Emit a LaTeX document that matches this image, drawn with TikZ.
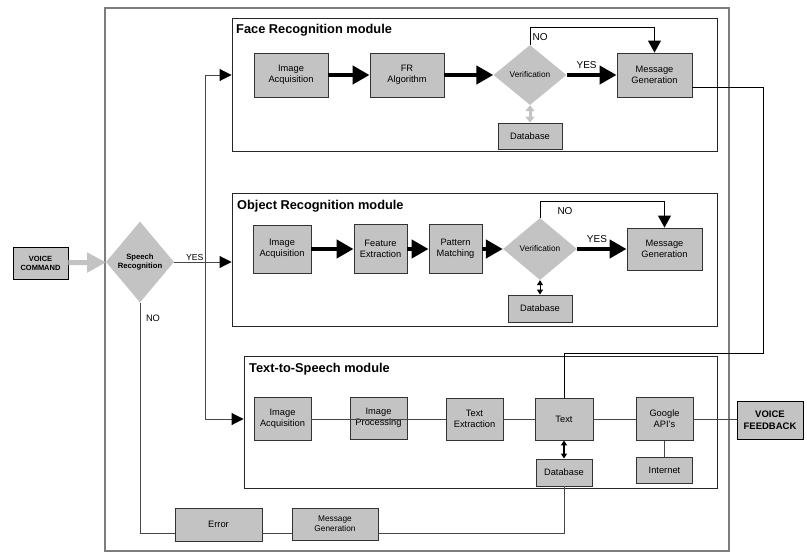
\documentclass[tikz,border=0pt]{standalone}
\usepackage{fontspec}
\setmainfont{Liberation Sans}
\usetikzlibrary{shapes.geometric}
\usetikzlibrary{arrows.meta}

\definecolor{boxfill}{RGB}{195,195,195}
\definecolor{framegray}{RGB}{125,125,125}
\definecolor{linegray}{RGB}{70,70,70}
\newcommand{\boxfont}{\fontsize{9.3}{11}\selectfont}
\newcommand{\smallfont}{\fontsize{8.3}{10}\selectfont}
\newcommand{\titlefont}{\bfseries\fontsize{12.8}{15}\selectfont}
\newcommand{\lblfont}{\fontsize{10}{12}\selectfont}

\begin{document}
\begin{tikzpicture}[x=1pt, y=-1pt,
  bloc/.style={draw=black!80, line width=0.9pt, fill=boxfill, align=center, inner sep=0pt, font=\boxfont},
  taille/.style 2 args={minimum width=#1pt, minimum height=#2pt},
  losange/.style={diamond, fill=boxfill, inner sep=0pt, align=center},
  module/.style={draw=black!85, line width=0.9pt, inner sep=0pt},
  titre/.style={anchor=west, inner sep=0pt, font=\titlefont},
  lbl/.style={inner sep=0.5pt, font=\lblfont},
  fil/.style={draw=linegray, line width=0.9pt},
  bigarrow/.style={draw=black, line width=4.5pt, -{Triangle[length=17pt, width=18pt]}},
  arrowtip/.style={fil, -{Triangle[length=12pt, width=12pt, color=black]}},
  dbarrow/.style={draw=black, line width=1.2pt, {Triangle[length=5pt, width=6pt]}-{Triangle[length=5pt, width=6pt]}}
]
\useasboundingbox (0,0) rectangle (807,554);

% cadres
\draw[framegray, line width=1.5pt] (105,8) rectangle (729,551);
\node[module, taille={485}{133}] (face) at (474.5,84.5) {};
\node[module, taille={485}{133}] (obj) at (474.5,259.5) {};
\node[module, taille={473}{132}] (tts) at (480.5,422) {};
\node[titre] (faceT) at (236,30) {Face Recognition module};
\node[titre] (objT) at (237,206) {Object Recognition module};
\node[titre] (ttsT) at (249,369) {Text-to-Speech module};

% entree
\node[bloc, draw=black, taille={55}{32}, font=\bfseries\fontsize{7.5}{9}\selectfont] (cmd) at (40.5,263) {VOICE\\COMMAND};
\node[losange, taille={68}{81}, aspect=0.84, font=\bfseries\fontsize{7.7}{9}\selectfont] (speech) at (140,262) {Speech\\Recognition};
\coordinate (split) at (205,262);

% Face Recognition
\node[bloc, taille={74}{44}] (fImg) at (291,75) {Image\\Acquisition};
\node[bloc, taille={74}{44}] (fAlg) at (407,75) {FR\\Algorithm};
\node[losange, taille={73}{60}, aspect=1.22, font=\smallfont] (fVer) at (530,75) {Verification};
\node[bloc, taille={75}{44}] (fMsg) at (654.5,75) {Message\\Generation};
\node[bloc, taille={64}{26}] (fDb) at (530,136) {Database};

% Object Recognition
\node[bloc, taille={58}{48}] (oImg) at (282,249) {Image\\Acquisition};
\node[bloc, taille={53}{49}] (oFeat) at (380.5,249) {Feature\\Extraction};
\node[bloc, taille={53}{49}] (oPat) at (455.5,249) {Pattern\\Matching};
\node[losange, taille={74}{62}, aspect=1.2, font=\smallfont] (oVer) at (540,249) {Verification};
\node[bloc, taille={75}{42}] (oMsg) at (664.5,249) {Message\\Generation};
\node[bloc, taille={64}{27}] (oDb) at (540,308.5) {Database};

% Text-to-Speech
\node[bloc, taille={57}{43}] (tImg) at (282.5,419) {Image\\Acquisition};
\node[bloc, taille={57}{42}] (tProc) at (378.5,418) {Image\\Processing};
\node[bloc, taille={57}{42}] (tExt) at (474.5,419) {Text\\Extraction};
\node[bloc, taille={58}{42}] (tText) at (564,419) {Text};
\node[bloc, taille={57}{43}] (tApi) at (664.5,419) {Google\\API’s};
\node[bloc, taille={56}{26}] (tNet) at (664.5,470) {Internet};
\node[bloc, taille={56}{27}] (tDb) at (564,472.5) {Database};
\node[bloc, draw=black, taille={66}{38}, font=\bfseries\fontsize{9.5}{11.5}\selectfont] (feedback) at (770,420) {VOICE\\FEEDBACK};

% erreur
\node[bloc, taille={87}{33}] (err) at (218.5,524.5) {Error};
\node[bloc, taille={86}{32}, font=\smallfont] (bMsg) at (335,524) {Message\\Generation};

% liaisons
\draw[draw=boxfill, line width=5pt, -{Triangle[length=19pt, width=19pt]}] (cmd) -- (speech);
\draw[arrowtip] (speech.east) -- (obj.west |- speech) node[pos=0.36, above, inner sep=0.5pt, font=\fontsize{8.7}{10}\selectfont] (yesSp) {YES};
\draw[fil] (split |- fImg) -- (split |- tImg);
\draw[arrowtip] (split |- fImg) -- (face.west |- fImg);
\draw[arrowtip] (split |- tImg) -- (tts.west |- tImg);
\draw[fil] (speech.south) |- ([yshift=-8.5pt]err.west);
\node[lbl, font=\fontsize{9.3}{11}\selectfont] (noSp) at (153,318) {NO};
\draw[fil] ([yshift=-8.5pt]err.east) -- ([yshift=-9pt]bMsg.west);
\draw[fil] ([yshift=-9pt]bMsg.east) -| (tDb.south);

\draw[bigarrow] (fImg) -- (fAlg);
\draw[bigarrow] (fAlg) -- (fVer);
\draw[bigarrow] (fVer.east) -- (fMsg.west) node[pos=0.4, above=4pt, lbl] (yesF) {YES};
\draw[fil, draw=black, -{Triangle[length=12pt, width=13pt]}] (fVer.north) -- ++(0,-17) -| (fMsg.north);
\node[lbl, anchor=west] (noF) at (532,37) {NO};
\draw[draw=boxfill, line width=3pt, {Triangle[length=6pt, width=9pt]}-{Triangle[length=6pt, width=9pt]}] (fVer.south) -- (fDb.north);
\coordinate (bend) at (763,353);
\draw[fil, draw=black] ([yshift=-12pt]fMsg.east) -| (bend) -| (tText.north);

\draw[bigarrow] (oImg) -- (oFeat);
\draw[bigarrow] (oFeat) -- (oPat);
\draw[bigarrow] (oPat.east) -- (oVer.west);
\draw[bigarrow] (oVer.east) -- (oMsg.west) node[pos=0.4, above=4pt, lbl] (yesO) {YES};
\draw[fil, draw=black, -{Triangle[length=12pt, width=13pt]}] (oVer.north) -- ++(0,-16) -| (oMsg.north);
\node[lbl] (noO) at (565,211) {NO};
\draw[dbarrow, line width=0.9pt] (oVer.south) -- (oDb.north);

\draw[fil] (tImg) -- (tProc |- tImg);
\draw[fil] (tProc |- tImg) -- (tExt);
\draw[fil] (tExt) -- (tText);
\draw[fil] (tText) -- (tApi);
\draw[fil] (tApi) -- (feedback.west |- tApi);
\draw[fil] (tApi.south) -- (tNet.north);
\draw[dbarrow] (tText.south) -- (tDb.north);
\end{tikzpicture}
\end{document}
